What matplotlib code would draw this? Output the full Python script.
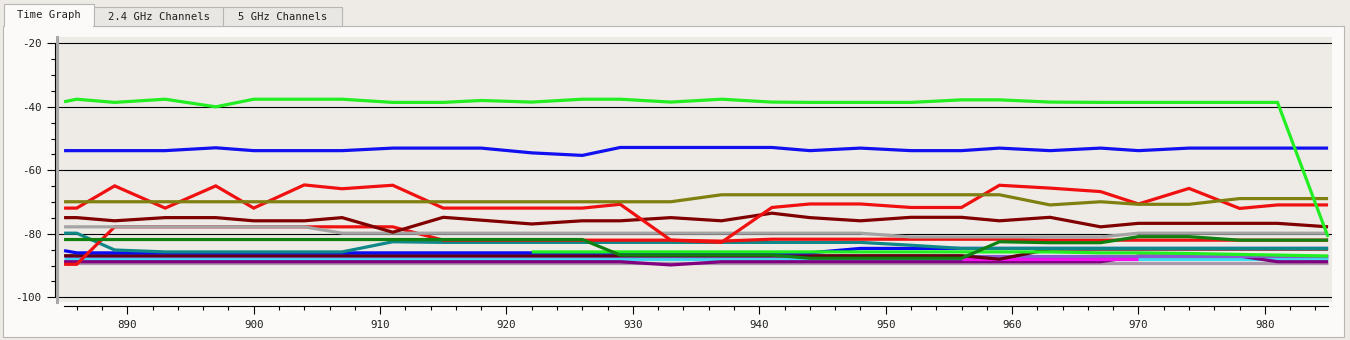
"""Wi-Fi scanner time graph: signal level (dBm) of every visible access point over time."""

import numpy as np
import matplotlib
matplotlib.use("Agg")
import matplotlib.pyplot as plt
from matplotlib.patches import Rectangle
from matplotlib.ticker import MultipleLocator

nan = np.nan

# DATA

TIME = [885, 886, 889, 893, 897, 900, 904, 907, 911, 915, 918, 922, 926, 929, 933,
        937, 941, 944, 948, 952, 956, 959, 963, 967, 970, 974, 978, 981, 985]

GREEN_TOP = [-38.4, -37.6, -38.6, -37.6, -40.0, -37.6, -37.6, -37.6, -38.6, -38.6,
             -38.0, -38.5, -37.6, -37.6, -38.5, -37.6, -38.5, -38.6, -38.6, -38.6,
             -37.8, -37.8, -38.5, -38.6, -38.6, -38.6, -38.6, -38.6, -81.0]
BLUE_TOP = [-53.8, -53.8, -53.8, -53.8, -52.9, -53.8, -53.8, -53.8, -53.0, -53.0,
            -53.0, -54.5, -55.3, -52.8, -52.8, -52.8, -52.8, -53.8, -53.0, -53.8,
            -53.8, -53.0, -53.8, -53.0, -53.8, -53.0, -53.0, -53.0, -53.0]
OLIVE = [-69.9] * 15 + [-67.7] * 7 + [-70.9, -69.9, -70.7, -70.7, -68.9, -68.9, -68.9]
RED_TOP = [-71.9, -71.9, -64.9, -71.9, -64.9, -71.9, -64.6, -65.8, -64.7, -71.9,
           -71.9, -71.9, -71.9, -70.7, -82.0, -82.7, -71.7, -70.6, -70.6, -71.7,
           -71.7, -64.7, -65.6, -66.7, -70.6, -65.7, -72.0, -70.9, -70.9]
MAROON = [-74.9, -74.9, -75.9, -74.9, -74.9, -75.9, -75.9, -74.9, -79.5, -74.8,
          -75.7, -76.9, -75.9, -75.9, -74.9, -75.9, -73.5, -74.9, -75.9, -74.8,
          -74.8, -75.9, -74.8, -77.8, -76.7, -76.7, -76.7, -76.7, -77.8]
GRAY = [-77.8] * 7 + [-79.8] * 12 + [-81.0] * 5 + [-79.8] * 5
RED_LOW = [-89.6, -89.6, -77.8, -77.8, -77.8, -77.8, -77.8, -77.8, -77.8, -82.0,
           -82.0, -82.0, -82.0, -82.0, -82.0, -82.3, -81.7, -81.7, -81.7, -81.7,
           -81.7, -81.7, -82.0, -82.0, -82.0, -82.0, -82.0, -82.0, -82.0]
DARK_GREEN = [-81.8] * 13 + [-86.7] * 4 + [-87.7] * 4 + [-82.5, -82.8, -82.8, -80.9,
                                                        -80.9, -82.0, -82.0, -82.0]
TEAL = [-79.8, -79.8, -85.1, -85.7, -85.7, -85.7, -85.7, -85.7, -82.5, -82.7,
        -82.7, -82.7, -82.7, -82.7, -82.7, -82.7, -82.7, -82.7, -82.7, -83.6,
        -84.6, -84.6, -84.6, -84.6, -84.6, -84.6, -84.6, -84.6, -84.6]
BLUE_LOW = [-85.3] + [-86.0] * 17 + [-84.6] * 11
GREEN_LOW = [nan] * 11 + [-85.7] * 12 + [-86.0, -86.0, -86.2, -86.5, -86.7, -87.0]
DARK_MAROON = [-86.9] * 21 + [-88.0] + [-84.8] * 7
MAGENTA = [nan] * 20 + [-88.0] * 5 + [nan] * 4
VIOLET = [-87.0] * 29
CYAN = [-88.0] * 29
PURPLE = [-88.8] * 14 + [-89.8] + [-88.8] * 9 + [-87.0] * 3 + [-88.8] * 2
MAUVE = [-89.3] * 29

# bottom first, top last
SERIES = [
    (MAUVE, "#a898aa"), (CYAN, "#40d8f0"), (PURPLE, "#800080"), (VIOLET, "#8a58d0"),
    (MAGENTA, "#f010f0"), (DARK_MAROON, "#600010"), (BLUE_LOW, "#0a0af0"),
    (GREEN_LOW, "#20f020"), (TEAL, "#108888"), (RED_LOW, "#f01010"),
    (DARK_GREEN, "#108010"), (GRAY, "#a4a4a4"), (MAROON, "#800000"),
    (RED_TOP, "#f01010"), (OLIVE, "#808010"), (BLUE_TOP, "#1010f0"),
    (GREEN_TOP, "#22ee22"),
]

Y_TICKS = [-100, -80, -60, -40, -20]
X_TICKS = [890, 900, 910, 920, 930, 940, 950, 960, 970, 980]

W, H = 1350, 340
MONO = "DejaVu Sans Mono"


def px_box(x0, y0, x1, y1):
    """Pixel box (top-left origin) -> figure fraction (left, bottom, width, height)"""
    return x0 / W, 1 - y1 / H, (x1 - x0) / W, (y1 - y0) / H


def add_rect(fig, box, **kw):
    l, b, w, h = px_box(*box)
    fig.patches.append(Rectangle((l, b), w, h, transform=fig.transFigure,
                                 zorder=-5, **kw))


def draw_chrome(fig):
    """Panel frame and the three tabs above the graph"""
    add_rect(fig, (3, 26, 1344, 337), facecolor="#fbfaf8", edgecolor="#b8b6b2", lw=0.8)
    tabs = [("Time Graph", 4, 94, 4, True),
            ("2.4 GHz Channels", 94, 223, 7, False),
            ("5 GHz Channels", 223, 342, 7, False)]
    for label, x0, x1, y0, active in tabs:
        fc = "#fbfaf8" if active else "#e9e7e3"
        add_rect(fig, (x0, y0, x1, 26), facecolor=fc, edgecolor="#b8b6b2", lw=0.8)
        if active:
            add_rect(fig, (x0 + 1, 24, x1 - 1, 28), facecolor=fc, edgecolor="none")
        fig.text((x0 + x1) / 2 / W, 1 - (y0 + 26) / 2 / H, label, ha="center",
                 va="center", family=MONO, fontsize=7.6, color="#202020")


def main():
    plt.rcParams["axes.unicode_minus"] = False
    fig = plt.figure(figsize=(W / 100, H / 100), dpi=100, facecolor="#eeebe7")
    draw_chrome(fig)

    ax = fig.add_axes(px_box(57, 37, 1332, 302))
    ax.set_facecolor("#eeebe7")
    for values, color in SERIES:
        ax.plot(TIME, values, color=color, lw=2.3, solid_joinstyle="miter",
                solid_capstyle="butt")

    ax.set_xlim(884.44, 985.31)
    ax.set_ylim(-101.48, -18.0)
    ax.set_yticks(Y_TICKS)
    ax.set_xticks(X_TICKS)
    ax.yaxis.set_minor_locator(MultipleLocator(5))
    ax.xaxis.set_minor_locator(MultipleLocator(2))
    ax.grid(axis="y", which="major", color="black", lw=0.8)
    ax.set_axisbelow(True)

    for side in ("top", "right"):
        ax.spines[side].set_visible(False)
    ax.spines["left"].set_position(("outward", 1.5))
    ax.spines["left"].set_bounds(-100, -20)
    ax.spines["bottom"].set_position(("outward", 3))
    ax.spines["bottom"].set_bounds(885, 985)
    for side in ("left", "bottom"):
        ax.spines[side].set_linewidth(0.8)
        ax.spines[side].set_color("black")

    ax.tick_params(which="major", length=5.8, width=0.8, pad=4, labelsize=7.8,
                   labelcolor="#202020")
    ax.tick_params(which="minor", length=3, width=0.8)
    for lab in ax.get_xticklabels() + ax.get_yticklabels():
        lab.set_family(MONO)

    # grey frame edge on the left side of the plot area
    ax.plot([0, 0], [0, 1], transform=ax.transAxes, color="#a8a8a8", lw=2.2,
            clip_on=False, zorder=5)

    fig.savefig("out.png", dpi=100, facecolor=fig.get_facecolor())
    plt.close(fig)


if __name__ == "__main__":
    main()
